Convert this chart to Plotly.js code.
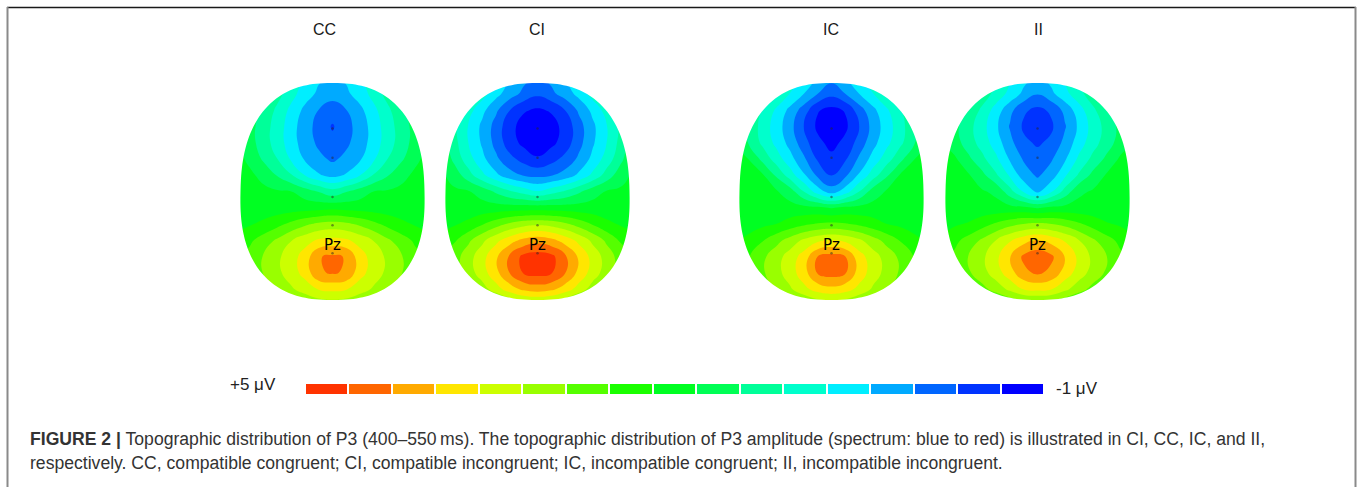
<!DOCTYPE html>
<html><head><meta charset="utf-8">
<script src="https://cdn.plot.ly/plotly-3.0.1.min.js"></script>
<style>html,body{margin:0;padding:0;background:#fff;}#chart{width:1363px;height:487px;}</style>
</head><body><div id="chart"></div>
<script>
// ---------------- DATA ----------------
const conditions = ['CC', 'CI', 'IC', 'II'];
// scalp grid (normalised head coordinates: u = left..right, v = back(-)..front(+))
const gridU = [-1.05, -0.9, -0.75, -0.6, -0.45, -0.3, -0.15, 0, 0.15, 0.3, 0.45, 0.6, 0.75, 0.9, 1.05];
const gridV = [1.05, 0.9, 0.75, 0.6, 0.45, 0.3, 0.15, 0, -0.15, -0.3, -0.45, -0.6, -0.75, -0.9, -1.05];
// P3 amplitude (µV) estimated from the maps; rows follow gridV (front to back), columns gridU
const ampCC = [
  [1.95, 1.88, 1.65, 1.30, 0.97, 0.69, 0.47, 0.35, 0.47, 0.69, 0.97, 1.30, 1.65, 1.88, 1.95],
  [1.95, 1.88, 1.60, 1.25, 0.90, 0.58, 0.34, 0.18, 0.34, 0.58, 0.90, 1.25, 1.60, 1.88, 1.95],
  [1.90, 1.74, 1.38, 1.04, 0.67, 0.32, 0.05, -0.10, 0.05, 0.32, 0.67, 1.04, 1.38, 1.74, 1.90],
  [1.90, 1.61, 1.28, 0.96, 0.57, 0.21, -0.06, -0.33, -0.06, 0.21, 0.57, 0.96, 1.28, 1.61, 1.90],
  [1.92, 1.62, 1.28, 0.96, 0.57, 0.24, -0.01, -0.20, -0.01, 0.24, 0.57, 0.96, 1.28, 1.62, 1.92],
  [1.93, 1.76, 1.41, 1.12, 0.72, 0.37, 0.15, 0.00, 0.15, 0.37, 0.72, 1.12, 1.41, 1.76, 1.93],
  [1.92, 1.88, 1.74, 1.45, 1.15, 0.76, 0.45, 0.31, 0.45, 0.76, 1.15, 1.45, 1.74, 1.88, 1.92],
  [1.92, 1.91, 1.89, 1.86, 1.83, 1.65, 1.45, 1.25, 1.45, 1.65, 1.83, 1.86, 1.89, 1.91, 1.92],
  [1.94, 1.95, 1.96, 1.98, 2.00, 2.02, 2.04, 2.08, 2.04, 2.02, 2.00, 1.98, 1.96, 1.95, 1.94],
  [2.08, 2.14, 2.26, 2.42, 2.62, 2.81, 2.96, 3.02, 2.96, 2.81, 2.62, 2.42, 2.26, 2.14, 2.08],
  [2.28, 2.46, 2.69, 2.94, 3.22, 3.45, 3.64, 3.70, 3.64, 3.45, 3.22, 2.94, 2.69, 2.46, 2.28],
  [2.43, 2.64, 2.91, 3.16, 3.43, 3.74, 4.27, 4.36, 4.27, 3.74, 3.43, 3.16, 2.91, 2.64, 2.43],
  [2.42, 2.64, 2.90, 3.15, 3.41, 3.72, 4.25, 4.33, 4.25, 3.72, 3.41, 3.15, 2.90, 2.64, 2.42],
  [2.28, 2.46, 2.68, 2.94, 3.18, 3.39, 3.61, 3.67, 3.61, 3.39, 3.18, 2.94, 2.68, 2.46, 2.28],
  [2.10, 2.17, 2.30, 2.47, 2.65, 2.84, 2.96, 3.00, 2.96, 2.84, 2.65, 2.47, 2.30, 2.17, 2.10]
];
const ampCI = [
  [1.95, 1.87, 1.50, 1.12, 0.75, 0.40, 0.16, 0.00, 0.16, 0.40, 0.75, 1.12, 1.50, 1.87, 1.95],
  [1.92, 1.75, 1.32, 0.92, 0.53, 0.22, -0.03, -0.22, -0.03, 0.22, 0.53, 0.92, 1.32, 1.75, 1.92],
  [1.84, 1.36, 0.91, 0.51, 0.12, -0.29, -0.61, -0.70, -0.61, -0.29, 0.12, 0.51, 0.91, 1.36, 1.84],
  [1.70, 1.19, 0.74, 0.33, -0.08, -0.54, -0.78, -0.95, -0.78, -0.54, -0.08, 0.33, 0.74, 1.19, 1.70],
  [1.74, 1.23, 0.76, 0.36, -0.06, -0.49, -0.74, -0.88, -0.74, -0.49, -0.06, 0.36, 0.76, 1.23, 1.74],
  [1.84, 1.36, 0.91, 0.51, 0.13, -0.19, -0.42, -0.60, -0.42, -0.19, 0.13, 0.51, 0.91, 1.36, 1.84],
  [1.90, 1.67, 1.26, 0.85, 0.49, 0.20, 0.03, -0.03, 0.03, 0.20, 0.49, 0.85, 1.26, 1.67, 1.90],
  [1.90, 1.88, 1.85, 1.68, 1.41, 1.16, 0.97, 0.79, 0.97, 1.16, 1.41, 1.68, 1.85, 1.88, 1.90],
  [1.93, 1.94, 1.95, 1.96, 1.97, 1.98, 1.99, 2.00, 1.99, 1.98, 1.97, 1.96, 1.95, 1.94, 1.93],
  [2.08, 2.14, 2.27, 2.50, 2.73, 2.95, 3.10, 3.16, 3.10, 2.95, 2.73, 2.50, 2.27, 2.14, 2.08],
  [2.27, 2.49, 2.81, 3.15, 3.49, 3.79, 4.04, 4.16, 4.04, 3.79, 3.49, 3.15, 2.81, 2.49, 2.27],
  [2.43, 2.73, 3.09, 3.46, 3.88, 4.36, 4.75, 4.84, 4.75, 4.36, 3.88, 3.46, 3.09, 2.73, 2.43],
  [2.41, 2.70, 3.06, 3.43, 3.84, 4.31, 4.68, 4.77, 4.68, 4.31, 3.84, 3.43, 3.06, 2.70, 2.41],
  [2.23, 2.43, 2.71, 3.06, 3.44, 3.77, 4.02, 4.11, 4.02, 3.77, 3.44, 3.06, 2.71, 2.43, 2.23],
  [2.05, 2.10, 2.19, 2.37, 2.54, 2.78, 2.95, 3.01, 2.95, 2.78, 2.54, 2.37, 2.19, 2.10, 2.05]
];
const ampIC = [
  [1.95, 1.86, 1.65, 1.31, 0.99, 0.67, 0.40, 0.20, 0.40, 0.67, 0.99, 1.31, 1.65, 1.86, 1.95],
  [1.92, 1.82, 1.45, 1.10, 0.75, 0.41, 0.06, -0.20, 0.06, 0.41, 0.75, 1.10, 1.45, 1.82, 1.92],
  [1.85, 1.57, 1.09, 0.71, 0.31, -0.11, -0.62, -0.75, -0.62, -0.11, 0.31, 0.71, 1.09, 1.57, 1.85],
  [1.83, 1.40, 0.98, 0.59, 0.19, -0.31, -0.72, -0.86, -0.72, -0.31, 0.19, 0.59, 0.98, 1.40, 1.83],
  [1.84, 1.44, 1.04, 0.67, 0.29, -0.15, -0.56, -0.75, -0.56, -0.15, 0.29, 0.67, 1.04, 1.44, 1.84],
  [1.90, 1.82, 1.37, 0.95, 0.54, 0.12, -0.34, -0.56, -0.34, 0.12, 0.54, 0.95, 1.37, 1.82, 1.90],
  [1.92, 1.90, 1.87, 1.42, 0.94, 0.46, -0.01, -0.32, -0.01, 0.46, 0.94, 1.42, 1.87, 1.90, 1.92],
  [1.90, 1.89, 1.88, 1.86, 1.65, 1.11, 0.58, 0.24, 0.58, 1.11, 1.65, 1.86, 1.88, 1.89, 1.90],
  [1.91, 1.92, 1.93, 1.94, 1.94, 1.93, 1.90, 1.80, 1.90, 1.93, 1.94, 1.94, 1.93, 1.92, 1.91],
  [1.98, 2.03, 2.10, 2.18, 2.33, 2.46, 2.56, 2.60, 2.56, 2.46, 2.33, 2.18, 2.10, 2.03, 1.98],
  [2.12, 2.27, 2.50, 2.76, 3.03, 3.30, 3.50, 3.60, 3.50, 3.30, 3.03, 2.76, 2.50, 2.27, 2.12],
  [2.27, 2.51, 2.80, 3.09, 3.39, 3.74, 4.30, 4.42, 4.30, 3.74, 3.39, 3.09, 2.80, 2.51, 2.27],
  [2.28, 2.53, 2.83, 3.11, 3.42, 3.79, 4.33, 4.45, 4.33, 3.79, 3.42, 3.11, 2.83, 2.53, 2.28],
  [2.15, 2.34, 2.59, 2.90, 3.18, 3.49, 3.73, 3.84, 3.73, 3.49, 3.18, 2.90, 2.59, 2.34, 2.15],
  [2.02, 2.08, 2.17, 2.35, 2.55, 2.76, 2.93, 2.98, 2.93, 2.76, 2.55, 2.35, 2.17, 2.08, 2.02]
];
const ampII = [
  [1.95, 1.88, 1.76, 1.45, 1.15, 0.83, 0.53, 0.33, 0.53, 0.83, 1.15, 1.45, 1.76, 1.88, 1.95],
  [1.93, 1.87, 1.63, 1.32, 1.00, 0.65, 0.33, 0.08, 0.33, 0.65, 1.00, 1.32, 1.63, 1.87, 1.93],
  [1.90, 1.72, 1.38, 1.04, 0.60, 0.17, -0.24, -0.38, -0.24, 0.17, 0.60, 1.04, 1.38, 1.72, 1.90],
  [1.86, 1.57, 1.24, 0.90, 0.48, 0.03, -0.35, -0.50, -0.35, 0.03, 0.48, 0.90, 1.24, 1.57, 1.86],
  [1.88, 1.63, 1.29, 0.97, 0.59, 0.17, -0.22, -0.34, -0.22, 0.17, 0.59, 0.97, 1.29, 1.63, 1.88],
  [1.92, 1.88, 1.55, 1.21, 0.84, 0.37, 0.02, -0.17, 0.02, 0.37, 0.84, 1.21, 1.55, 1.88, 1.92],
  [1.92, 1.89, 1.86, 1.57, 1.17, 0.71, 0.23, 0.01, 0.23, 0.71, 1.17, 1.57, 1.86, 1.89, 1.92],
  [1.92, 1.90, 1.88, 1.86, 1.75, 1.26, 0.72, 0.33, 0.72, 1.26, 1.75, 1.86, 1.88, 1.90, 1.92],
  [1.93, 1.93, 1.94, 1.94, 1.94, 1.93, 1.90, 1.79, 1.90, 1.93, 1.94, 1.94, 1.94, 1.93, 1.93],
  [2.06, 2.13, 2.21, 2.39, 2.58, 2.76, 2.89, 2.95, 2.89, 2.76, 2.58, 2.39, 2.21, 2.13, 2.06],
  [2.22, 2.43, 2.67, 2.94, 3.24, 3.55, 3.81, 3.95, 3.81, 3.55, 3.24, 2.94, 2.67, 2.43, 2.22],
  [2.37, 2.61, 2.89, 3.16, 3.50, 3.92, 4.37, 4.53, 4.37, 3.92, 3.50, 3.16, 2.89, 2.61, 2.37],
  [2.32, 2.56, 2.83, 3.10, 3.42, 3.79, 4.20, 4.36, 4.20, 3.79, 3.42, 3.10, 2.83, 2.56, 2.32],
  [2.14, 2.30, 2.53, 2.77, 3.03, 3.32, 3.61, 3.67, 3.61, 3.32, 3.03, 2.77, 2.53, 2.30, 2.14],
  [2.00, 2.06, 2.12, 2.18, 2.32, 2.46, 2.56, 2.60, 2.56, 2.46, 2.32, 2.18, 2.12, 2.06, 2.00]
];
const ampByCondition = [ampCC, ampCI, ampIC, ampII];
// midline electrodes
const electrodeU = [0, 0, 0, 0, 0];
const electrodeV = [0.58, 0.31, -0.05, -0.31, -0.57];
const labelElectrode = 'Pz';
const labelElectrodeV = -0.493;
// colour scale
const scaleMin = -1, scaleMax = 5;
const scaleMaxLabel = '+5 μV', scaleMinLabel = '-1 μV';
const bandColors = ['#0000ff', '#0033ff', '#0066ff', '#00aaff', '#00eeff', '#00ffcc', '#00ff99', '#00ff55',
  '#00ff22', '#1aff00', '#55ff00', '#99ff00', '#ccff00', '#ffe600', '#ffaa00', '#ff6600', '#ff3300'];
const captionLine1 = '<b>FIGURE 2 |</b> Topographic distribution of P3 (400–550\u2009ms). The topographic distribution of P3 amplitude (spectrum: blue to red) is illustrated in CI, CC, IC, and II,';
const captionLine2 = 'respectively. CC, compatible congruent; CI, compatible incongruent; IC, incompatible congruent; II, incompatible incongruent.';

// ---------------- LAYOUT CONSTANTS ----------------
const W = 1363, H = 487;
const headCx = [332.5, 537.5, 831.5, 1037.5];
const labelCx = [324, 536.5, 831.5, 1038];
const headCy = 191.5, headA = 92, headB = 108.5;
const halfBoxX = 100, halfBoxY = 111.5;
const nBands = bandColors.length;
const step = (scaleMax - scaleMin) / nBands;
const font = 'Liberation Sans, Arial, sans-serif';

const traces = [];
const layout = {
  width: W, height: H, margin: {l: 0, r: 0, t: 0, b: 0},
  paper_bgcolor: '#fff', plot_bgcolor: 'rgba(0,0,0,0)', showlegend: false, hovermode: false,
  annotations: [], shapes: []
};

const contourScale = bandColors.map((c, k) => [k / (nBands - 1), c]);

// head outline (superellipse, slightly wider at the back)
function headPath() {
  const n = 2.45, N = 200;
  let p = '';
  for (let i = 0; i < N; i++) {
    const t = 2 * Math.PI * i / N;
    const c = Math.cos(t), s = Math.sin(t);
    const v = Math.sign(s) * Math.pow(Math.abs(s), 2 / n);
    const u = Math.sign(c) * Math.pow(Math.abs(c), 2 / n) * (1 - 0.025 * v);
    p += (i === 0 ? 'M' : 'L') + u.toFixed(4) + ',' + v.toFixed(4);
  }
  return p + 'Z';
}
const hp = headPath();

conditions.forEach((cond, i) => {
  const sfx = i === 0 ? '' : String(i + 1);
  const xr = halfBoxX / headA, yr = halfBoxY / headB;
  layout['xaxis' + sfx] = {domain: [(headCx[i] - halfBoxX) / W, (headCx[i] + halfBoxX) / W], range: [-xr, xr],
    anchor: 'y' + sfx, visible: false, fixedrange: true};
  layout['yaxis' + sfx] = {domain: [1 - (headCy + halfBoxY) / H, 1 - (headCy - halfBoxY) / H], range: [-yr, yr],
    anchor: 'x' + sfx, visible: false, fixedrange: true};
  traces.push({
    type: 'contour', x: gridU, y: gridV.slice().reverse(), z: ampByCondition[i].slice().reverse(),
    xaxis: 'x' + sfx, yaxis: 'y' + sfx,
    autocontour: false,
    contours: {start: scaleMin + step, end: scaleMin + (nBands - 1) * step, size: step, coloring: 'fill', showlines: false},
    line: {width: 0, smoothing: 1.3},
    colorscale: contourScale, showscale: false, hoverinfo: 'skip'
  });
  traces.push({
    type: 'scatter', mode: 'markers', x: electrodeU, y: electrodeV, xaxis: 'x' + sfx, yaxis: 'y' + sfx,
    marker: {size: 2.5, color: 'rgba(40,40,40,0.5)'}, hoverinfo: 'skip'
  });
  // white mask outside the head
  const ex = xr + 0.002, ey = yr + 0.002;
  layout.shapes.push({
    type: 'path', xref: 'x' + sfx, yref: 'y' + sfx, layer: 'above', fillrule: 'evenodd',
    path: `M${-ex},${-ey}L${ex},${-ey}L${ex},${ey}L${-ex},${ey}Z` + hp,
    fillcolor: '#ffffff', line: {width: 0}
  });
  layout.annotations.push({
    xref: 'x' + sfx, yref: 'y' + sfx, x: 0, y: labelElectrodeV, text: labelElectrode, showarrow: false,
    font: {family: 'DejaVu Sans, sans-serif', size: 15, color: '#000'}, xanchor: 'center', yanchor: 'middle'
  });
  layout.annotations.push({
    xref: 'paper', yref: 'paper', x: labelCx[i] / W, y: 1 - 29 / H, text: cond, showarrow: false,
    font: {family: font, size: 16, color: '#1a1a1a'}, xanchor: 'center', yanchor: 'middle'
  });
});

// colour bar (red = +5 on the left, blue = -1 on the right)
const barIdx = bandColors.map((c, k) => k);
const barZ = [barIdx.map(k => scaleMax - (k + 0.5) * step)];
const stepScale = [];
bandColors.forEach((c, k) => { stepScale.push([k / nBands, c]); stepScale.push([(k + 1) / nBands, c]); });
traces.push({
  type: 'heatmap', x: barIdx, y: [0], z: barZ, zmin: scaleMin, zmax: scaleMax,
  colorscale: stepScale, showscale: false, xgap: 2, hoverinfo: 'skip', xaxis: 'x5', yaxis: 'y5'
});
layout.xaxis5 = {domain: [305 / W, 1044 / W], range: [-0.5, nBands - 0.5], anchor: 'y5', visible: false, fixedrange: true};
layout.yaxis5 = {domain: [1 - 394 / H, 1 - 384 / H], range: [-0.5, 0.5], anchor: 'x5', visible: false, fixedrange: true};
layout.annotations.push({xref: 'paper', yref: 'paper', x: 253 / W, y: 1 - 384 / H, text: scaleMaxLabel, showarrow: false,
  font: {family: font, size: 17, color: '#222'}, xanchor: 'center', yanchor: 'middle'});
layout.annotations.push({xref: 'paper', yref: 'paper', x: 1077 / W, y: 1 - 388 / H, text: scaleMinLabel, showarrow: false,
  font: {family: font, size: 17, color: '#222'}, xanchor: 'center', yanchor: 'middle'});

// caption
layout.annotations.push({xref: 'paper', yref: 'paper', x: 28 / W, y: 1 - 439 / H, text: captionLine1, showarrow: false,
  font: {family: font, size: 17.6, color: '#333'}, xanchor: 'left', yanchor: 'middle', align: 'left'});
layout.annotations.push({xref: 'paper', yref: 'paper', x: 28 / W, y: 1 - 463 / H, text: captionLine2, showarrow: false,
  font: {family: font, size: 17.6, color: '#333'}, xanchor: 'left', yanchor: 'middle', align: 'left'});

// frame
layout.shapes.push({type: 'line', xref: 'paper', yref: 'paper', x0: 7 / W, x1: 1356 / W, y0: 1 - 7.5 / H, y1: 1 - 7.5 / H,
  line: {color: '#1a1a1a', width: 1.5}});
layout.shapes.push({type: 'line', xref: 'paper', yref: 'paper', x0: 7.5 / W, x1: 7.5 / W, y0: 1 - 7 / H, y1: 0,
  line: {color: '#8a8a8a', width: 2}});
layout.shapes.push({type: 'line', xref: 'paper', yref: 'paper', x0: 1355.5 / W, x1: 1355.5 / W, y0: 1 - 7 / H, y1: 0,
  line: {color: '#8a8a8a', width: 2}});

Plotly.newPlot('chart', traces, layout, {staticPlot: true, displayModeBar: false});
</script>
</body></html>
